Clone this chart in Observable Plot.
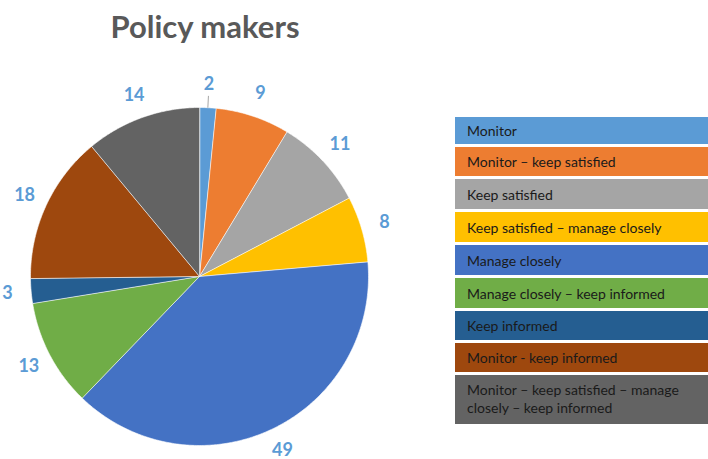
<!DOCTYPE html>
<html>
<head>
<meta charset="utf-8">
<script src="https://cdn.jsdelivr.net/npm/d3@7"></script>
<script src="https://cdn.jsdelivr.net/npm/@observablehq/plot@0.6"></script>
<style>
  html, body { margin: 0; padding: 0; background: #fff; }
  #wrap { position: relative; width: 708px; height: 459px; overflow: hidden; font-family: Lato, "Open Sans", sans-serif; }
  #title { position: absolute; left: 0; width: 410px; top: 7px; text-align: center; font-size: 31px; font-weight: bold; color: #595959; }
  #chart { position: absolute; left: 0; top: 0; }
  #legend { position: absolute; left: 455px; top: 117px; width: 253px; }
  .row { box-sizing: border-box; padding: 0 0 0 12px; margin-bottom: 3px; font-size: 14px; color: #1a1a1a; display: flex; align-items: center; }
  .row.multi { align-items: flex-start; padding-top: 6px; line-height: 18px; }
</style>
</head>
<body>
<div id="wrap">
  <div id="chart"></div>
  <div id="title">Policy makers</div>
  <div id="legend"></div>
</div>
<script>
const categories = [
  "Monitor",
  "Monitor – keep satisfied",
  "Keep satisfied",
  "Keep satisfied – manage closely",
  "Manage closely",
  "Manage closely – keep informed",
  "Keep informed",
  "Monitor -  keep informed",
  "Monitor – keep satisfied – manage closely – keep informed"
];
const values = [2, 9, 11, 8, 49, 13, 3, 18, 14];
const colors = ["#5B9BD5", "#ED7D31", "#A5A5A5", "#FFC000", "#4472C4", "#70AD47", "#255E91", "#9E480E", "#636363"];
const legendRowHeights = [27, 29, 30, 30, 30, 30, 29, 29, 49];
const leaderCategories = ["Monitor"];

const W = 708, H = 459, cx = 199, cy = 276, R = 169;

const data = categories.map((c, i) => ({category: c, value: values[i]}));
const arcs = d3.pie().sort(null).value(d => d.value)(data);

// slice outlines in unit-radius space, computed from pie angles
const poly = [];
arcs.forEach(a => {
  const cat = a.data.category;
  poly.push({category: cat, x: 0, y: 0});
  const n = Math.max(2, Math.ceil((a.endAngle - a.startAngle) / 0.01));
  for (let k = 0; k <= n; k++) {
    const t = a.startAngle + (a.endAngle - a.startAngle) * k / n;
    poly.push({category: cat, x: Math.sin(t), y: Math.cos(t)});
  }
});

const labelR = 1.14;
const labels = arcs.map(a => {
  const m = (a.startAngle + a.endAngle) / 2;
  return {category: a.data.category, value: a.data.value, x: labelR * Math.sin(m), y: labelR * Math.cos(m), m};
});
const leaders = labels.filter(d => leaderCategories.includes(d.category)).map(d => ({
  x1: Math.sin(d.m), y1: Math.cos(d.m), x2: 1.07 * Math.sin(d.m), y2: 1.07 * Math.cos(d.m)
}));

const chart = Plot.plot({
  width: W, height: H,
  margin: 0,
  x: {domain: [-cx / R, (W - cx) / R], axis: null},
  y: {domain: [-(H - cy) / R, cy / R], axis: null},
  color: {domain: categories, range: colors},
  style: {background: "transparent"},
  marks: [
    Plot.line(poly, {x: "x", y: "y", z: "category", fill: "category", stroke: "#ffffff", strokeWidth: 0.6, curve: "linear-closed"}),
    Plot.link(leaders, {x1: "x1", y1: "y1", x2: "x2", y2: "y2", stroke: "#a6a6a6", strokeWidth: 1}),
    Plot.text(labels, {x: "x", y: "y", text: "value", fill: "#5B9BD5", fontSize: 18, fontWeight: "bold", fontFamily: "Lato, 'Open Sans', sans-serif"})
  ]
});
document.getElementById("chart").appendChild(chart);

const legend = document.getElementById("legend");
categories.forEach((c, i) => {
  const row = document.createElement("div");
  row.className = "row" + (legendRowHeights[i] > 40 ? " multi" : "");
  row.style.background = colors[i];
  row.style.height = legendRowHeights[i] + "px";
  row.textContent = c;
  legend.appendChild(row);
});
</script>
</body>
</html>
